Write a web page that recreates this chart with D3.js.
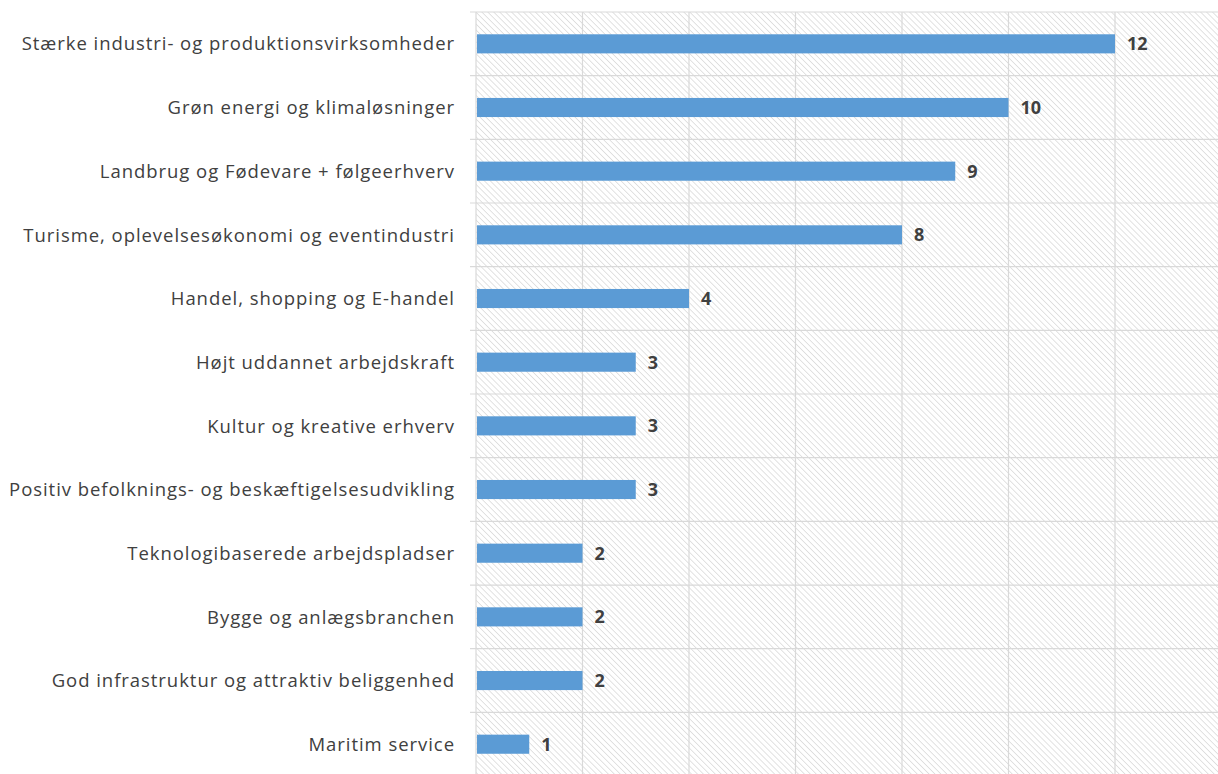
<!DOCTYPE html>
<html>
<head>
<meta charset="utf-8">
<script src="https://cdn.jsdelivr.net/npm/d3@7"></script>
<style>
  body { margin: 0; background: #fff; }
  svg { display: block; }
</style>
</head>
<body>
<div id="chart"></div>
<script>
const categories = [
  "Stærke industri- og produktionsvirksomheder",
  "Grøn energi og klimaløsninger",
  "Landbrug og Fødevare + følgeerhverv",
  "Turisme, oplevelsesøkonomi og eventindustri",
  "Handel, shopping og E-handel",
  "Højt uddannet arbejdskraft",
  "Kultur og kreative erhverv",
  "Positiv befolknings- og beskæftigelsesudvikling",
  "Teknologibaserede arbejdspladser",
  "Bygge og anlægsbranchen",
  "God infrastruktur og attraktiv beliggenhed",
  "Maritim service"
];
const values = [12, 10, 9, 8, 4, 3, 3, 3, 2, 2, 2, 1];
const xTicks = [0, 2, 4, 6, 8, 10, 12, 14];

const width = 1218, height = 774;
const marginLeft = 476, marginTop = 12;

const svg = d3.select("#chart").append("svg")
    .attr("width", width)
    .attr("height", height);

// diagonal hatch for the plot background
const pattern = svg.append("defs").append("pattern")
    .attr("id", "hatch")
    .attr("patternUnits", "userSpaceOnUse")
    .attr("width", 4.2)
    .attr("height", 4.2)
    .attr("patternTransform", "rotate(-45)");
pattern.append("line")
    .attr("x1", 0).attr("y1", 0)
    .attr("x2", 0).attr("y2", 4.2)
    .attr("stroke", "#cfcfcf")
    .attr("stroke-width", 1.2);

const x = d3.scaleLinear().domain([0, 14]).range([marginLeft, marginLeft + 14 * 53.25]);
const y = d3.scaleBand().domain(categories)
    .range([marginTop, marginTop + 12 * 63.67])
    .paddingInner(0.7).paddingOuter(0.35);

svg.append("rect")
    .attr("x", marginLeft)
    .attr("y", marginTop)
    .attr("width", width - marginLeft)
    .attr("height", height - marginTop)
    .attr("fill", "url(#hatch)");

// vertical gridlines
svg.append("g")
    .selectAll("line")
    .data(xTicks)
    .join("line")
    .attr("x1", d => x(d)).attr("x2", d => x(d))
    .attr("y1", marginTop).attr("y2", height)
    .attr("stroke", "#d9d9d9")
    .attr("stroke-width", 1.2);

// horizontal band boundaries
const step = y.step();
const bounds = d3.range(categories.length + 1).map(i => marginTop + i * step);
svg.append("g")
    .selectAll("line")
    .data(bounds)
    .join("line")
    .attr("x1", marginLeft - 6).attr("x2", width)
    .attr("y1", d => d).attr("y2", d => d)
    .attr("stroke", "#d9d9d9")
    .attr("stroke-width", 1.2);

// bars
svg.append("g")
    .selectAll("rect")
    .data(values)
    .join("rect")
    .attr("x", x(0) + 1)
    .attr("y", (d, i) => y(categories[i]))
    .attr("width", d => x(d) - x(0) - 1)
    .attr("height", y.bandwidth())
    .attr("fill", "#5b9bd5");

// value labels
svg.append("g")
    .selectAll("text")
    .data(values)
    .join("text")
    .attr("x", d => x(d) + 12)
    .attr("y", (d, i) => y(categories[i]) + y.bandwidth() / 2)
    .attr("dy", "0.36em")
    .attr("font-family", "'Open Sans', sans-serif")
    .attr("font-weight", "bold")
    .attr("font-size", 18)
    .attr("fill", "#404040")
    .text(d => d);

// category labels
svg.append("g")
    .selectAll("text")
    .data(categories)
    .join("text")
    .attr("x", marginLeft - 21)
    .attr("y", d => y(d) + y.bandwidth() / 2)
    .attr("dy", "0.36em")
    .attr("text-anchor", "end")
    .attr("font-family", "'Open Sans', sans-serif")
    .attr("font-size", 18.5)
    .attr("letter-spacing", "0.95px")
    .attr("fill", "#404040")
    .text(d => d);
</script>
</body>
</html>
